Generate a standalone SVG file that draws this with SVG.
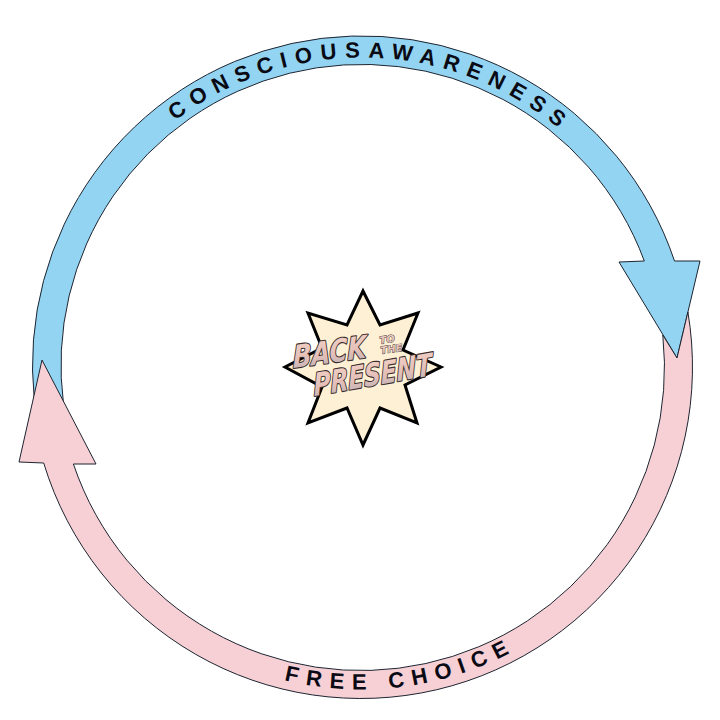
<svg xmlns="http://www.w3.org/2000/svg" width="720" height="720" viewBox="0 0 720 720">
<style>
.band{stroke:#1c2430;stroke-width:1;stroke-linejoin:miter}
.blue{fill:#93d4f2}
.pink{fill:#f7d0d6}
.lab{font-family:"Liberation Sans",Arial,sans-serif;font-weight:700;font-size:22px;fill:#0a0a14}
.bp{font-family:"DejaVu Sans",sans-serif;font-weight:700;font-style:italic;fill:url(#g);stroke:#3a2c2c;stroke-width:2.2;paint-order:stroke;stroke-linejoin:round}
</style>
<defs>
<linearGradient id="g" x1="0" y1="0" x2="0" y2="1"><stop offset="0" stop-color="#f4d2c6"/><stop offset="0.6" stop-color="#e2beb8"/><stop offset="1" stop-color="#b4b2ba"/></linearGradient>
<path id="topArc" d="M175 120.9A308 308 0 0 1 598 167.5"/>
<path id="botArc" d="M284.1 680.2A322.5 322.5 0 0 0 568.3 614"/>
</defs>
<g id="connectors">
<g id="conscious-awareness-arrow">
<path class="band blue" d="M34.3 400A329.5 329.5 0 0 1 674.5 261L700 261L677 358L619 262L644.3 261A301 301 0 0 0 63.6 405Z"/>
<text class="lab"><textPath href="#topArc" letter-spacing="8.2">CONSCIOUSAWARENESS</textPath></text>
</g>
<g id="free-choice-arrow">
<path class="band pink" d="M662.8 335A303.5 303.5 0 0 1 73.4 464L96 464L42 360L19 462L43.7 463A331.5 331.5 0 0 0 687.9 312L677 358Z"/>
<text class="lab"><textPath href="#botArc" letter-spacing="8.2">FREE CHOICE</textPath></text>
</g>
</g>
<g id="burst">
<polygon points="363,291 380,325 418,313 403,350 441,367 405,385 417,423 380,408 363,445 347,408 308,423 322,387 285,367 322,348 308,313 347,325" fill="#fdf0d5" stroke="#000" stroke-width="3"/>
<text class="bp" font-size="31" textLength="74" lengthAdjust="spacingAndGlyphs" transform="translate(293,368) rotate(-8) skewX(-8)">BACK</text>
<text class="bp" font-size="31" textLength="120" lengthAdjust="spacingAndGlyphs" transform="translate(314,396) rotate(-10) skewX(-8)">PRESENT</text>
<text class="bp" font-size="10" style="stroke-width:.8" transform="translate(380,344) rotate(-8)">TO</text>
<text class="bp" font-size="10" style="stroke-width:.8" transform="translate(381,354) rotate(-8)">THE</text>
</g>
</svg>
